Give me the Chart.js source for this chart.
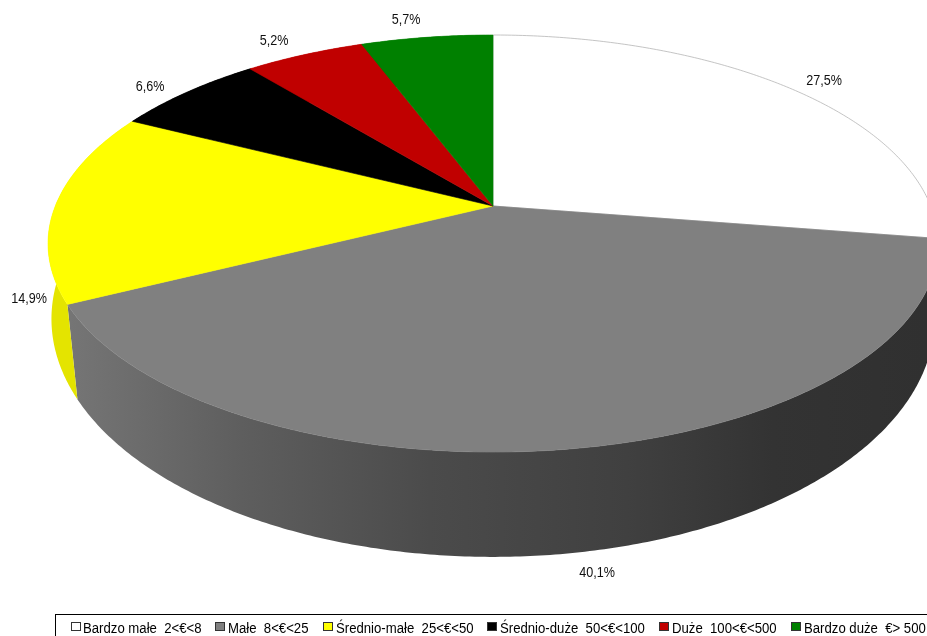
<!DOCTYPE html>
<html>
<head>
<meta charset="utf-8">
<script src="https://cdn.jsdelivr.net/npm/chart.js@4"></script>
<style>
  html, body { margin: 0; background: #fff; overflow: hidden; }
  #wrap { position: relative; width: 927px; height: 636px; overflow: hidden; }
  #legendBox { position: absolute; left: 55px; top: 614px; width: 900px; height: 40px; border: 1px solid #000; box-sizing: border-box; }
  .sw { position: absolute; top: 622px; width: 8px; height: 7px; border: 1px solid #333; }
  .lb { position: absolute; top: 619px; font: 14px/18px "Liberation Sans", Arial, sans-serif; color: #000; white-space: pre; transform: scaleX(0.94); transform-origin: left top; }
</style>
</head>
<body>
<div id="wrap">
  <canvas id="myChart" width="927" height="636"></canvas>
  <div id="legendBox"></div>
</div>
<script>
const categories = ["Bardzo małe  2<€<8", "Małe  8<€<25", "Średnio-małe  25<€<50", "Średnio-duże  50<€<100", "Duże  100<€<500", "Bardzo duże  €> 500"];
const shares = [27.5, 40.1, 14.9, 6.6, 5.2, 5.7];
const shareLabels = ["27,5%", "40,1%", "14,9%", "6,6%", "5,2%", "5,7%"];
const colors = ["#ffffff", "#808080", "#ffff00", "#000000", "#c00000", "#008000"];

// where the labels and legend entries sit
const labelPos = [[824, 81], [597, 573], [29, 299], [150, 87], [274, 41], [406, 20]];
const swatchX = [71, 215, 323, 487, 659, 791];
const legendX = [83, 228, 336, 500, 672, 804];

// perspective of the tilted disc: circle (u, v) -> screen
const cx = 493;
const topFace = { a: 437.7, y0: 206, b: 164.7, k: -0.18 };
const bottomFace = { a: 437.8, y0: 288, b: 196.5, k: -0.13 };

function project(face, angle) {
  const u = Math.cos(angle), v = Math.sin(angle);
  const d = 1 + face.k * v;
  return [cx + face.a * u / d, (face.y0 + face.b * v) / d];
}

function rim(face, start, end) {
  const pts = [];
  const steps = Math.max(2, Math.ceil((end - start) / 0.01));
  for (let i = 0; i <= steps; i++) {
    pts.push(project(face, start + (end - start) * i / steps));
  }
  return pts;
}

function tracePoly(ctx, pts) {
  ctx.beginPath();
  pts.forEach((p, i) => (i ? ctx.lineTo(p[0], p[1]) : ctx.moveTo(p[0], p[1])));
  ctx.closePath();
}

function wallFill(ctx, color) {
  if (color !== "#808080") {
    return color === "#ffff00" ? "#e4e400" : color;
  }
  const g = ctx.createLinearGradient(70, 0, 927, 0);
  g.addColorStop(0, "#757575");
  g.addColorStop(0.2, "#5e5e5e");
  g.addColorStop(0.42, "#4b4b4b");
  g.addColorStop(0.65, "#404040");
  g.addColorStop(0.82, "#333333");
  g.addColorStop(1, "#303030");
  return g;
}

const tiltedPie = {
  id: "tiltedPie",
  beforeDatasetDraw(chart) {
    const ctx = chart.ctx;
    const arcs = chart.getDatasetMeta(0).data;
    ctx.save();
    // side walls first, the top face covers whatever is behind it
    arcs.forEach((arc, i) => {
      const pts = rim(topFace, arc.startAngle, arc.endAngle)
        .concat(rim(bottomFace, arc.startAngle, arc.endAngle).reverse());
      tracePoly(ctx, pts);
      ctx.fillStyle = wallFill(ctx, colors[i]);
      ctx.fill();
    });
    arcs.forEach((arc, i) => {
      const pts = [[cx, topFace.y0]].concat(rim(topFace, arc.startAngle, arc.endAngle));
      tracePoly(ctx, pts);
      ctx.fillStyle = arc.options.backgroundColor;
      ctx.fill();
      ctx.strokeStyle = i === 0 ? "#b5b5b5" : arc.options.backgroundColor;
      ctx.lineWidth = i === 0 ? 0.8 : 0.6;
      ctx.stroke();
    });
    ctx.font = '14px "Liberation Sans", Arial, sans-serif';
    ctx.fillStyle = "#111";
    ctx.textAlign = "center";
    ctx.textBaseline = "middle";
    shareLabels.forEach((t, i) => {
      ctx.save();
      ctx.translate(labelPos[i][0], labelPos[i][1]);
      ctx.scale(0.9, 1);
      ctx.fillText(t, 0, 0);
      ctx.restore();
    });
    ctx.restore();
    return false;
  },
};

new Chart(document.getElementById("myChart"), {
  type: "pie",
  data: {
    labels: categories,
    datasets: [{ data: shares, backgroundColor: colors, borderWidth: 0 }],
  },
  options: {
    responsive: false,
    animation: false,
    plugins: { legend: { display: false }, tooltip: { enabled: false } },
  },
  plugins: [tiltedPie],
});

const wrap = document.getElementById("wrap");
categories.forEach((name, i) => {
  const sw = document.createElement("div");
  sw.className = "sw";
  sw.style.left = swatchX[i] + "px";
  sw.style.background = colors[i];
  wrap.appendChild(sw);
  const lb = document.createElement("div");
  lb.className = "lb";
  lb.style.left = legendX[i] + "px";
  lb.textContent = name;
  wrap.appendChild(lb);
});
</script>
</body>
</html>
